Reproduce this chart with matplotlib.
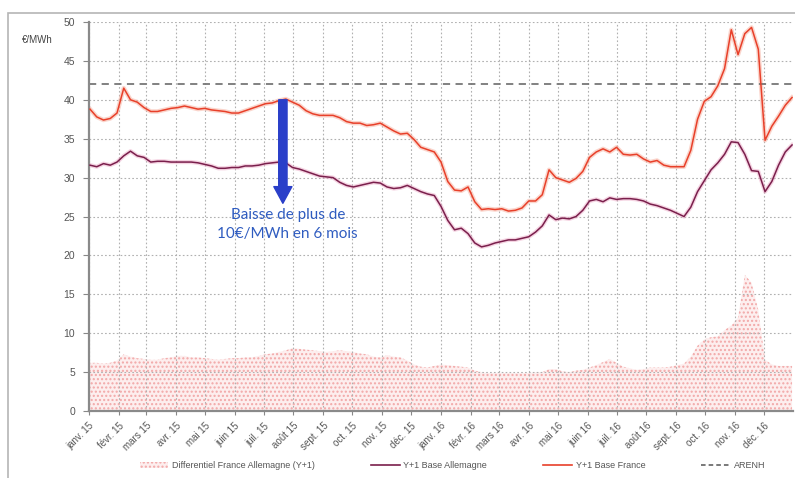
import matplotlib
matplotlib.use("Agg")
import matplotlib.pyplot as plt
import matplotlib.dates as mdates
from matplotlib.patches import Rectangle, Patch
from matplotlib.lines import Line2D
import pandas as pd

# ---------------- data (weekly readings) ----------------
start_date = "2015-01-02"
france = [38.8, 37.8, 37.4, 37.6, 38.3, 41.5, 40.0, 39.7, 39.0, 38.5,
          38.5, 38.7, 38.9, 39.0, 39.2, 39.0, 38.8, 38.9, 38.7, 38.6,
          38.5, 38.3, 38.3, 38.6, 38.9, 39.2, 39.5, 39.6, 39.9, 40.1,
          39.7, 39.3, 38.6, 38.2, 38.0, 38.0, 38.0, 37.7, 37.2, 37.0,
          37.0, 36.7, 36.8, 37.0, 36.5, 36.0, 35.6, 35.7, 34.9, 33.9,
          33.6, 33.3, 32.0, 29.5, 28.4, 28.3, 28.8, 26.9, 25.9, 26.0,
          25.9, 26.0, 25.7, 25.8, 26.1, 27.0, 27.0, 27.8, 31.0, 30.0,
          29.7, 29.4, 29.9, 30.8, 32.6, 33.3, 33.7, 33.3, 33.9, 33.0,
          32.9, 33.0, 32.4, 32.0, 32.2, 31.6, 31.4, 31.4, 31.4, 33.5,
          37.5, 39.8, 40.4, 41.8, 44.0, 49.0, 45.8, 48.5, 49.3, 46.5,
          34.8, 36.6, 37.9, 39.3, 40.3]
allemagne = [31.6, 31.4, 31.8, 31.6, 32.0, 32.8, 33.4, 32.8, 32.6, 32.0,
             32.1, 32.1, 32.0, 32.0, 32.0, 32.0, 31.9, 31.7, 31.5, 31.2,
             31.2, 31.3, 31.3, 31.5, 31.5, 31.6, 31.8, 31.9, 32.0, 31.9,
             31.3, 31.1, 30.8, 30.5, 30.2, 30.1, 30.0, 29.4, 29.0, 28.8,
             29.0, 29.2, 29.4, 29.3, 28.8, 28.6, 28.7, 29.0, 28.6, 28.2,
             27.9, 27.7, 26.3, 24.5, 23.3, 23.5, 22.8, 21.6, 21.1, 21.3,
             21.6, 21.8, 22.0, 22.0, 22.2, 22.4, 23.0, 23.8, 25.2, 24.6,
             24.8, 24.7, 25.0, 25.8, 27.0, 27.2, 26.9, 27.4, 27.2, 27.3,
             27.3, 27.2, 27.0, 26.6, 26.4, 26.1, 25.8, 25.4, 25.0, 26.2,
             28.2, 29.6, 31.0, 31.9, 33.0, 34.6, 34.5, 33.0, 30.9, 30.8,
             28.2, 29.5, 31.6, 33.3, 34.2]
differentiel = [6.2, 6.2, 6.1, 6.2, 6.5, 7.3, 7.0, 6.8, 6.7, 6.6,
                6.6, 6.8, 6.9, 7.1, 7.1, 6.9, 6.9, 6.8, 6.7, 6.6,
                6.7, 6.8, 6.8, 6.9, 6.9, 7.1, 7.3, 7.4, 7.6, 7.8,
                8.1, 8.0, 7.9, 7.8, 7.7, 7.6, 7.7, 7.8, 7.7, 7.6,
                7.4, 7.3, 7.0, 6.9, 7.2, 7.0, 6.9, 6.5, 6.0, 5.7,
                5.6, 5.8, 6.0, 5.9, 5.8, 5.7, 5.6, 5.2, 5.0, 4.9,
                4.9, 4.9, 4.9, 4.9, 4.9, 4.9, 5.0, 5.0, 5.4, 5.4,
                5.1, 5.0, 5.2, 5.3, 5.6, 5.9, 6.3, 6.7, 6.2, 5.7,
                5.5, 5.3, 5.4, 5.6, 5.6, 5.6, 5.7, 5.9, 6.1, 7.0,
                8.4, 9.2, 9.5, 9.6, 10.4, 11.0, 12.0, 17.5, 16.5, 13.0,
                6.6, 6.0, 5.8, 5.8, 5.8]
arenh = 42.0
month_labels = ['janv. 15', 'févr. 15', 'mars 15', 'avr. 15', 'mai 15', 'juin 15',
                'juil. 15', 'août 15', 'sept. 15', 'oct. 15', 'nov. 15', 'déc. 15',
                'janv. 16', 'févr. 16', 'mars 16', 'avr. 16', 'mai 16', 'juin 16',
                'juil. 16', 'août 16', 'sept. 16', 'oct. 16', 'nov. 16', 'déc. 16']
y_ticks = [0, 5, 10, 15, 20, 25, 30, 35, 40, 45, 50]
legend_labels = ['Differentiel France Allemagne (Y+1)', 'Y+1 Base Allemagne',
                 'Y+1 Base France', 'ARENH']
annotation_text = "Baisse de plus de\n10€/MWh en 6 mois"
arrow_date = "2015-07-21"
arrow_top = 40.0
arrow_bottom = 26.7

dates = pd.date_range(start_date, periods=len(france), freq="7D")
month_starts = pd.date_range("2015-01-01", periods=len(month_labels), freq="MS")

# ---------------- figure ----------------
plt.rcParams['font.family'] = ['Liberation Sans', 'DejaVu Sans']
plt.rcParams['hatch.linewidth'] = 1.0
fig = plt.figure(figsize=(7.95, 4.78), dpi=100)
ax = fig.add_axes([0.112, 0.140, 0.8855, 0.814])

red = '#e8402a'
purple = '#7a1f4c'
hatch_col = '#f2a8a8'

ax.fill_between(dates, 0, differentiel, facecolor='#fdeeee', edgecolor=hatch_col,
                hatch='....', linewidth=0, zorder=1)
ax.plot(dates, allemagne, color='#e9a0c0', lw=3.0, alpha=0.45, zorder=2)
ax.plot(dates, allemagne, color=purple, lw=1.1, zorder=3)
ax.plot(dates, france, color='#f7b3a3', lw=3.2, alpha=0.55, zorder=2)
ax.plot(dates, france, color=red, lw=1.1, zorder=3)
ax.axhline(arenh, color='#777777', lw=1.3, ls=(0, (4, 3)), zorder=2)

ax.set_ylim(0, 50)
ax.set_xlim(pd.Timestamp("2015-01-01"), pd.Timestamp("2016-12-31"))
ax.set_yticks(y_ticks)
ax.set_xticks(month_starts)
ax.set_xticklabels(month_labels, rotation=45, ha='right', rotation_mode='anchor',
                   fontsize=7, color='#555555')
ax.tick_params(axis='y', labelsize=7.5, labelcolor='#555555', color='#888888',
               length=4, pad=6)
ax.tick_params(axis='x', color='#888888', length=3, pad=4)
ax.grid(True, color='#b0b0b0', ls=(0, (1.5, 2)), lw=0.8, zorder=0)
for s in ['top', 'right']:
    ax.spines[s].set_visible(False)
for s in ['left', 'bottom']:
    ax.spines[s].set_color('#8a8a8a')
    ax.spines[s].set_linewidth(1.6)

fig.text(22 / 795, 1 - 40 / 478, '€/MWh', fontsize=7, color='#444444',
         ha='left', va='center')

# arrow + annotation
ax.annotate('', xy=(pd.Timestamp(arrow_date), arrow_bottom),
            xytext=(pd.Timestamp(arrow_date), arrow_top),
            arrowprops=dict(arrowstyle='simple,head_width=1.3,head_length=1.2,tail_width=0.6',
                            mutation_scale=10, color='#2a3fc9', shrinkA=0, shrinkB=0),
            zorder=5)
ax.text(pd.Timestamp("2015-07-26"), 24.0, annotation_text, ha='center', va='center',
        fontsize=11, color='#2f5cc0', family=['Lato', 'DejaVu Sans'],
        linespacing=1.45, zorder=5)

# legend
handles = [Patch(facecolor='#fdeeee', edgecolor=hatch_col, hatch='....', lw=0),
           Line2D([], [], color=purple, lw=1.2),
           Line2D([], [], color=red, lw=1.2),
           Line2D([], [], color='#555555', lw=1.1, ls=(0, (3, 2)))]
fig.legend(handles, legend_labels, loc='center', bbox_to_anchor=(0.569, 0.026),
           ncol=4, frameon=False, fontsize=6.5, handlelength=3.2,
           columnspacing=6.2, labelcolor='#555555', handletextpad=0.4)

# outer frame
fig.add_artist(Rectangle((8 / 795, -0.05), 1.2, 1 - 13 / 478 + 0.05,
                         transform=fig.transFigure, fill=False,
                         edgecolor='#b5b5b5', lw=1.2))

fig.savefig("out.png", dpi=100)
